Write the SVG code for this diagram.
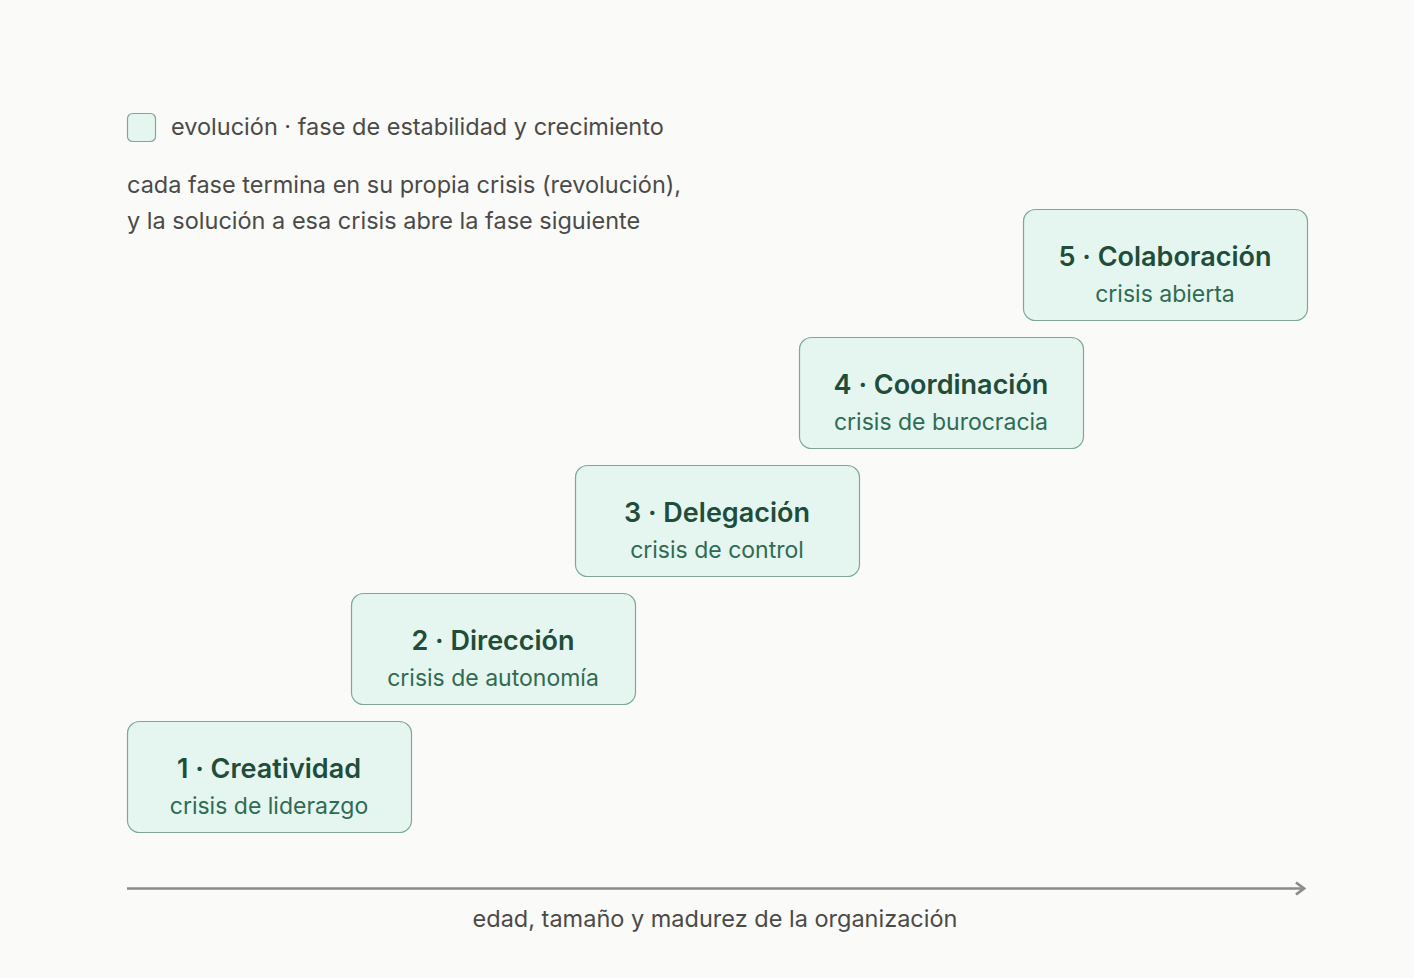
<svg xmlns="http://www.w3.org/2000/svg" width="1414" height="978" viewBox="0 0 1414 978">
<style>
.bg{fill:#fafaf8}
.box{fill:#e5f5ef;stroke:#7fa895;stroke-width:1.2}
.t{font-family:Inter,"Liberation Sans",sans-serif;font-size:27px;font-weight:600;fill:#1f4d3a;text-anchor:middle}
.s{font-family:Inter,"Liberation Sans",sans-serif;font-size:23px;fill:#2f6b52;text-anchor:middle}
.g{font-family:Inter,"Liberation Sans",sans-serif;font-size:23.5px;fill:#4a4a48}
.axis{stroke:#8a8d86;stroke-width:2.5;fill:none}
</style>
<defs>
<marker id="arr" markerWidth="16" markerHeight="16" refX="12" refY="8" orient="auto" markerUnits="userSpaceOnUse">
<path d="M4,2 L12,8 L4,14" fill="none" stroke="#8a8d86" stroke-width="2.8"/>
</marker>
</defs>
<rect class="bg" x="0" y="0" width="1414" height="978"/>
<g id="legend">
<rect class="box" x="127.5" y="113.5" width="28" height="28" rx="5"/>
<text class="g" x="171" y="135">evolución · fase de estabilidad y crecimiento</text>
<text class="g" x="127" y="193">cada fase termina en su propia crisis (revolución),</text>
<text class="g" x="127" y="229">y la solución a esa crisis abre la fase siguiente</text>
</g>
<g id="connectors">
<line class="axis" x1="127" y1="888.5" x2="1304" y2="888.5" marker-end="url(#arr)"/>
<text class="g" x="715" y="927" text-anchor="middle" font-size="23">edad, tamaño y madurez de la organización</text>
</g>
<g id="n1">
<rect class="box" x="127.5" y="721.5" width="284" height="111" rx="12"/>
<text class="t" x="269" y="778">1 · Creatividad</text>
<text class="s" x="269" y="814">crisis de liderazgo</text>
</g>
<g id="n2">
<rect class="box" x="351.5" y="593.5" width="284" height="111" rx="12"/>
<text class="t" x="493" y="650">2 · Dirección</text>
<text class="s" x="493" y="686">crisis de autonomía</text>
</g>
<g id="n3">
<rect class="box" x="575.5" y="465.5" width="284" height="111" rx="12"/>
<text class="t" x="717" y="522">3 · Delegación</text>
<text class="s" x="717" y="558">crisis de control</text>
</g>
<g id="n4">
<rect class="box" x="799.5" y="337.5" width="284" height="111" rx="12"/>
<text class="t" x="941" y="394">4 · Coordinación</text>
<text class="s" x="941" y="430">crisis de burocracia</text>
</g>
<g id="n5">
<rect class="box" x="1023.5" y="209.5" width="284" height="111" rx="12"/>
<text class="t" x="1165" y="266">5 · Colaboración</text>
<text class="s" x="1165" y="302">crisis abierta</text>
</g>
</svg>
